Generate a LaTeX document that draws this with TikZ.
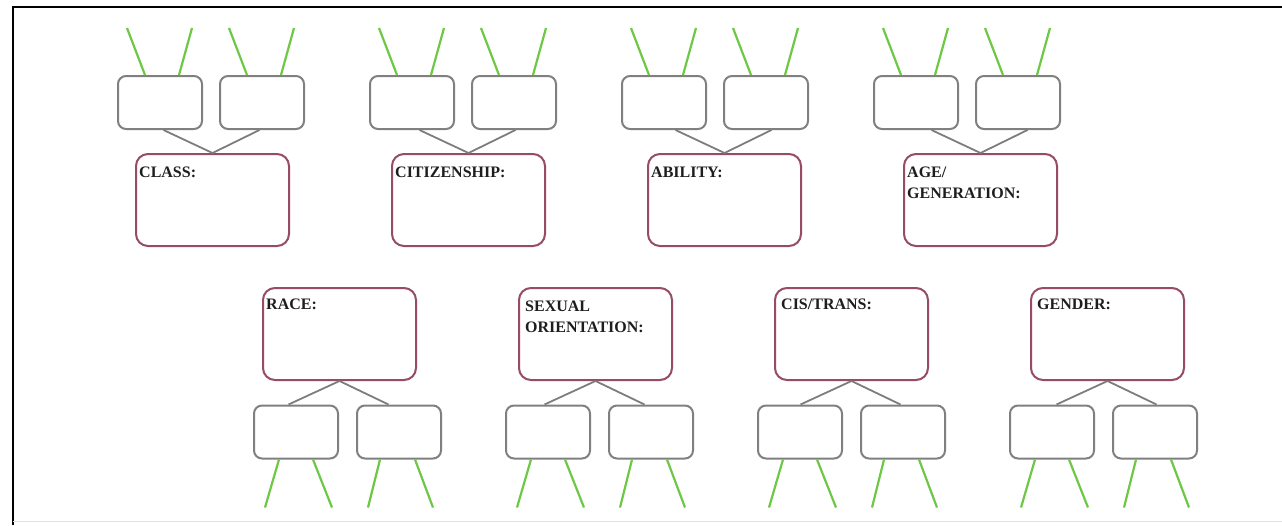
\documentclass[tikz,border=0pt]{standalone}
\usepackage{fontspec}
\setmainfont{Liberation Serif}
\definecolor{mainc}{RGB}{150,75,105}
\definecolor{boxc}{RGB}{128,128,128}
\definecolor{linkc}{RGB}{125,125,125}
\definecolor{greenc}{RGB}{110,200,70}
\definecolor{txtc}{RGB}{30,30,30}
\begin{document}
\begin{tikzpicture}[x=1pt,y=-1pt,
  mainbox/.style={draw=mainc, line width=2pt, rounded corners=12pt, minimum width=153pt, minimum height=92pt, inner sep=0pt},
  smallbox/.style={draw=boxc, line width=2pt, rounded corners=8pt, minimum width=84pt, minimum height=53pt, inner sep=0pt},
  link/.style={draw=linkc, line width=1.8pt},
  twig/.style={draw=greenc, line width=2.2pt},
  lbl/.style={anchor=base west, inner sep=0pt, font=\bfseries\fontsize{16}{21}\selectfont, text=txtc, align=left}]
\useasboundingbox (0,0) rectangle (1282,525);
% frame
\coordinate (fa) at (13,7);
\coordinate (fb) at (1282,7);
\coordinate (fc) at (13,525);
\coordinate (fd) at (13,521);
\coordinate (fe) at (1282,521);
\draw[line width=2pt, black] (fb) -- (fa) -- (fc);
\draw[line width=1pt, black!12] (fd) -- (fe);
% top row
\foreach \i/\t/\v in {1/{CLASS:}/24,2/{CITIZENSHIP:}/24,3/{ABILITY:}/24,4/{AGE/\\GENERATION:}/45} {
  \pgfmathsetmacro\mx{212.5+256*(\i-1)}
  \pgfmathsetmacro\sx{160+252*(\i-1)}
  \pgfmathsetmacro\tx{262+252*(\i-1)}
  \node[mainbox] (m\i) at (\mx,200) {};
  \node[lbl] (l\i) at ([shift={(4,\v)}]m\i.north west) {\t};
  \node[smallbox] (a\i) at (\sx,102.5) {};
  \node[smallbox] (b\i) at (\tx,102.5) {};
  \draw[link] (m\i.north) -- ([xshift=-49pt]m\i.north |- a\i.south);
  \draw[link] (m\i.north) -- ([xshift=47pt]m\i.north |- b\i.south);
  \draw[twig] ([xshift=-15pt]a\i.north) -- ++(-18,-47);
  \draw[twig] ([xshift=19pt]a\i.north) -- ++(13,-47);
  \draw[twig] ([xshift=-15pt]b\i.north) -- ++(-18,-47);
  \draw[twig] ([xshift=19pt]b\i.north) -- ++(13,-47);
}
% bottom row
\foreach \i/\t/\o/\v in {1/{RACE:}/4/22,2/{SEXUAL\\ORIENTATION:}/7/45,3/{CIS/TRANS:}/7/22,4/{GENDER:}/7/22} {
  \pgfmathsetmacro\mx{339.5+256*(\i-1)}
  \pgfmathsetmacro\sx{296+252*(\i-1)}
  \pgfmathsetmacro\tx{399+252*(\i-1)}
  \node[mainbox] (n\i) at (\mx,334) {};
  \node[lbl] (k\i) at ([shift={(\o,\v)}]n\i.north west) {\t};
  \node[smallbox] (c\i) at (\sx,432) {};
  \node[smallbox] (d\i) at (\tx,432) {};
  \draw[link] (n\i.south) -- ([xshift=-51pt]n\i.south |- c\i.north);
  \draw[link] (n\i.south) -- ([xshift=49pt]n\i.south |- d\i.north);
  \draw[twig] ([xshift=-17pt]c\i.south) -- ++(-14,48);
  \draw[twig] ([xshift=17pt]c\i.south) -- ++(19,48);
  \draw[twig] ([xshift=-19pt]d\i.south) -- ++(-12,48);
  \draw[twig] ([xshift=16pt]d\i.south) -- ++(18,48);
}
\end{tikzpicture}
\end{document}
